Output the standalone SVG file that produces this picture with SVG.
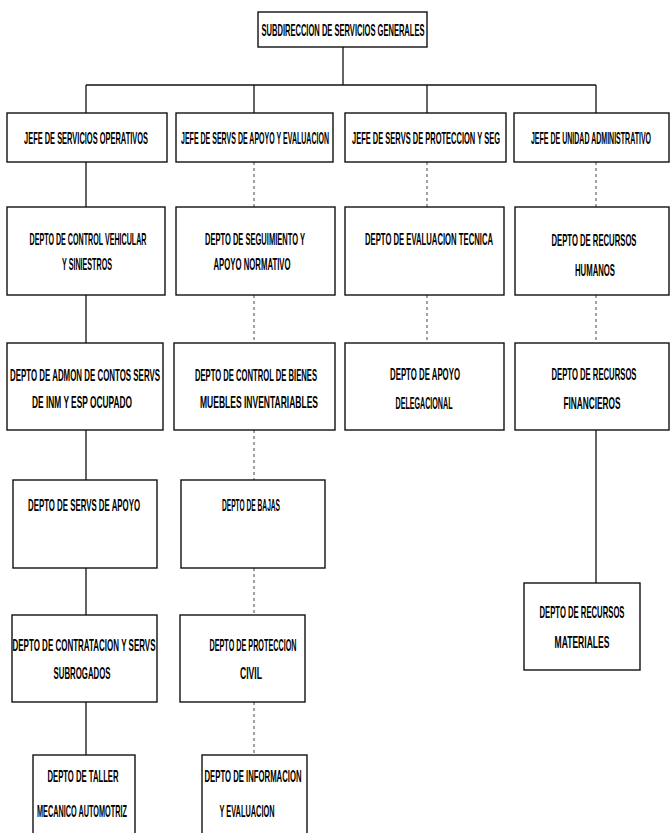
<svg xmlns="http://www.w3.org/2000/svg" width="672" height="833" viewBox="0 0 672 833">
<style>
.bx{fill:#fff;stroke:#111;stroke-width:1.4}
.t{font-family:"Liberation Sans",Arial,sans-serif;font-weight:bold;font-size:17px;fill:#000;text-anchor:middle}
.c{stroke:#111;stroke-width:1.3;fill:none}
.d{stroke:#444;stroke-width:1;fill:none;stroke-dasharray:3 3}
</style>
<rect width="672" height="833" fill="#fff"/>
<g id="connectors">
<line class="c" x1="343" y1="47" x2="343" y2="85"/>
<line class="c" x1="86" y1="85" x2="596" y2="85"/>
<line class="c" x1="86" y1="85" x2="86" y2="113"/>
<line class="c" x1="254" y1="85" x2="254" y2="113"/>
<line class="c" x1="427" y1="85" x2="427" y2="113"/>
<line class="c" x1="596" y1="85" x2="596" y2="113"/>
<line class="c" x1="86" y1="162" x2="86" y2="207"/>
<line class="c" x1="86" y1="295" x2="86" y2="343"/>
<line class="c" x1="86" y1="430" x2="86" y2="480"/>
<line class="c" x1="86" y1="568" x2="86" y2="615"/>
<line class="c" x1="86" y1="702" x2="86" y2="755"/>
<line class="d" x1="254" y1="162" x2="254" y2="207"/>
<line class="d" x1="254" y1="295" x2="254" y2="343"/>
<line class="d" x1="254" y1="430" x2="254" y2="480"/>
<line class="d" x1="254" y1="568" x2="254" y2="615"/>
<line class="d" x1="254" y1="702" x2="254" y2="755"/>
<line class="d" x1="427" y1="162" x2="427" y2="207"/>
<line class="d" x1="427" y1="295" x2="427" y2="343"/>
<line class="d" x1="596" y1="162" x2="596" y2="207"/>
<line class="d" x1="596" y1="295" x2="596" y2="343"/>
<line class="c" x1="596" y1="430" x2="596" y2="583"/>
</g>
<g id="n0"><rect class="bx" x="258" y="12" width="169" height="35"/><text class="t" transform="translate(343 0) scale(0.5 1)" x="0" y="36" textLength="326" lengthAdjust="spacingAndGlyphs">SUBDIRECCION DE SERVICIOS GENERALES</text></g>
<g id="a1"><rect class="bx" x="7" y="113" width="160" height="49"/><text class="t" transform="translate(86 0) scale(0.5 1)" x="0" y="144" textLength="248" lengthAdjust="spacingAndGlyphs">JEFE DE SERVICIOS OPERATIVOS</text></g>
<g id="b1"><rect class="bx" x="176" y="113" width="157" height="49"/><text class="t" transform="translate(255 0) scale(0.5 1)" x="0" y="144" textLength="296" lengthAdjust="spacingAndGlyphs">JEFE DE SERVS DE APOYO Y EVALUACION</text></g>
<g id="c1"><rect class="bx" x="345" y="113" width="161" height="49"/><text class="t" transform="translate(426 0) scale(0.5 1)" x="0" y="144" textLength="296" lengthAdjust="spacingAndGlyphs">JEFE DE SERVS DE PROTECCION Y SEG</text></g>
<g id="d1"><rect class="bx" x="514" y="113" width="155" height="49"/><text class="t" transform="translate(591 0) scale(0.44 1)" x="0" y="144" textLength="273" lengthAdjust="spacingAndGlyphs">JEFE DE UNIDAD ADMINISTRATIVO</text></g>
<g id="a2"><rect class="bx" x="7" y="207" width="158" height="88"/><text class="t" transform="translate(88 0) scale(0.5 1)" x="0" y="245" textLength="234" lengthAdjust="spacingAndGlyphs">DEPTO DE CONTROL VEHICULAR</text><text class="t" transform="translate(87 0) scale(0.5 1)" x="0" y="270" textLength="100" lengthAdjust="spacingAndGlyphs">Y SINIESTROS</text></g>
<g id="b2"><rect class="bx" x="176" y="207" width="159" height="88"/><text class="t" transform="translate(255 0) scale(0.5 1)" x="0" y="245" textLength="200" lengthAdjust="spacingAndGlyphs">DEPTO DE SEGUIMIENTO Y</text><text class="t" transform="translate(252 0) scale(0.5 1)" x="0" y="270" textLength="154" lengthAdjust="spacingAndGlyphs">APOYO NORMATIVO</text></g>
<g id="c2"><rect class="bx" x="345" y="207" width="159" height="88"/><text class="t" transform="translate(429 0) scale(0.5 1)" x="0" y="245" textLength="256" lengthAdjust="spacingAndGlyphs">DEPTO DE EVALUACION TECNICA</text></g>
<g id="d2"><rect class="bx" x="515" y="207" width="154" height="88"/><text class="t" transform="translate(594 0) scale(0.5 1)" x="0" y="246" textLength="170" lengthAdjust="spacingAndGlyphs">DEPTO DE RECURSOS</text><text class="t" transform="translate(595 0) scale(0.5 1)" x="0" y="276" textLength="80" lengthAdjust="spacingAndGlyphs">HUMANOS</text></g>
<g id="a3"><rect class="bx" x="7" y="343" width="156" height="87"/><text class="t" transform="translate(85 0) scale(0.5 1)" x="0" y="381" textLength="300" lengthAdjust="spacingAndGlyphs">DEPTO DE ADMON DE CONTOS SERVS</text><text class="t" transform="translate(82 0) scale(0.5 1)" x="0" y="408" textLength="200" lengthAdjust="spacingAndGlyphs">DE INM Y ESP OCUPADO</text></g>
<g id="b3"><rect class="bx" x="174" y="343" width="161" height="87"/><text class="t" transform="translate(256 0) scale(0.5 1)" x="0" y="381" textLength="244" lengthAdjust="spacingAndGlyphs">DEPTO DE CONTROL DE BIENES</text><text class="t" transform="translate(259 0) scale(0.5 1)" x="0" y="408" textLength="236" lengthAdjust="spacingAndGlyphs">MUEBLES INVENTARIABLES</text></g>
<g id="c3"><rect class="bx" x="345" y="343" width="159" height="87"/><text class="t" transform="translate(425 0) scale(0.5 1)" x="0" y="380" textLength="140" lengthAdjust="spacingAndGlyphs">DEPTO DE APOYO</text><text class="t" transform="translate(424 0) scale(0.5 1)" x="0" y="409" textLength="114" lengthAdjust="spacingAndGlyphs">DELEGACIONAL</text></g>
<g id="d3"><rect class="bx" x="515" y="343" width="154" height="87"/><text class="t" transform="translate(594 0) scale(0.5 1)" x="0" y="380" textLength="170" lengthAdjust="spacingAndGlyphs">DEPTO DE RECURSOS</text><text class="t" transform="translate(592 0) scale(0.5 1)" x="0" y="409" textLength="114" lengthAdjust="spacingAndGlyphs">FINANCIEROS</text></g>
<g id="a4"><rect class="bx" x="13" y="480" width="144" height="88"/><text class="t" transform="translate(84 0) scale(0.5 1)" x="0" y="511" textLength="224" lengthAdjust="spacingAndGlyphs">DEPTO DE SERVS DE APOYO</text></g>
<g id="b4"><rect class="bx" x="181" y="480" width="144" height="88"/><text class="t" transform="translate(251 0) scale(0.5 1)" x="0" y="511" textLength="116" lengthAdjust="spacingAndGlyphs">DEPTO DE BAJAS</text></g>
<g id="d4"><rect class="bx" x="524" y="583" width="116" height="87"/><text class="t" transform="translate(582 0) scale(0.5 1)" x="0" y="618" textLength="170" lengthAdjust="spacingAndGlyphs">DEPTO DE RECURSOS</text><text class="t" transform="translate(582 0) scale(0.5 1)" x="0" y="648" textLength="110" lengthAdjust="spacingAndGlyphs">MATERIALES</text></g>
<g id="a5"><rect class="bx" x="12" y="615" width="145" height="87"/><text class="t" transform="translate(84 0) scale(0.5 1)" x="0" y="651" textLength="286" lengthAdjust="spacingAndGlyphs">DEPTO DE CONTRATACION Y SERVS</text><text class="t" transform="translate(82 0) scale(0.5 1)" x="0" y="679" textLength="114" lengthAdjust="spacingAndGlyphs">SUBROGADOS</text></g>
<g id="b5"><rect class="bx" x="180" y="615" width="125" height="87"/><text class="t" transform="translate(253 0) scale(0.5 1)" x="0" y="651" textLength="174" lengthAdjust="spacingAndGlyphs">DEPTO DE PROTECCION</text><text class="t" transform="translate(251 0) scale(0.5 1)" x="0" y="679" textLength="44" lengthAdjust="spacingAndGlyphs">CIVIL</text></g>
<g id="a6"><rect class="bx" x="33" y="755" width="102" height="90"/><text class="t" transform="translate(83 0) scale(0.5 1)" x="0" y="782" textLength="142" lengthAdjust="spacingAndGlyphs">DEPTO DE TALLER</text><text class="t" transform="translate(82 0) scale(0.5 1)" x="0" y="817" textLength="180" lengthAdjust="spacingAndGlyphs">MECANICO AUTOMOTRIZ</text></g>
<g id="b6"><rect class="bx" x="202" y="755" width="105" height="90"/><text class="t" transform="translate(253 0) scale(0.5 1)" x="0" y="782" textLength="194" lengthAdjust="spacingAndGlyphs">DEPTO DE INFORMACION</text><text class="t" transform="translate(247 0) scale(0.5 1)" x="0" y="817" textLength="110" lengthAdjust="spacingAndGlyphs">Y EVALUACION</text></g>
</svg>
